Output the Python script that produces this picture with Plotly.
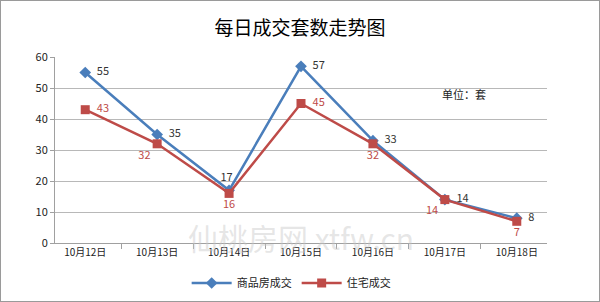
import plotly.graph_objects as go

categories = ["10月12日", "10月13日", "10月14日", "10月15日", "10月16日", "10月17日", "10月18日"]
commercial = [55, 35, 17, 57, 33, 14, 8]
residential = [43, 32, 16, 45, 32, 14, 7]
commercial_pos = ["middle right", "middle right", "top center", "middle right", "middle right", "middle right", "middle right"]
residential_pos = ["middle right", "bottom left", "bottom center", "middle right", "bottom center", "bottom left", "bottom center"]

FONT = "Noto Sans CJK SC"
BLUE = "#4a7ebb"
RED = "#be4b48"


def pad(values, positions):
    out = []
    for v, p in zip(values, positions):
        if p == "middle right":
            out.append(f"  {v}")
        elif p == "top center":
            out.append(f"{v}  ")
        else:
            out.append(str(v))
    return out


fig = go.Figure()
fig.add_trace(go.Scatter(
    x=categories, y=commercial, name="商品房成交", mode="lines+markers+text",
    line=dict(color=BLUE, width=2.5),
    marker=dict(symbol="diamond", size=9, color=BLUE),
    text=pad(commercial, commercial_pos), textposition=commercial_pos,
    textfont=dict(family=FONT, size=11, color="#333333"),
))
fig.add_trace(go.Scatter(
    x=categories, y=residential, name="住宅成交", mode="lines+markers+text",
    line=dict(color=RED, width=2.5),
    marker=dict(symbol="square", size=9, color=RED),
    text=pad(residential, residential_pos), textposition=residential_pos,
    textfont=dict(family=FONT, size=11, color=RED),
))

fig.update_layout(
    width=600, height=302,
    margin=dict(l=55, r=53, t=57, b=59, autoexpand=False),
    paper_bgcolor="white", plot_bgcolor="white",
    font=dict(family=FONT, size=11, color="#222222"),
    title=dict(text="每日成交套数走势图", x=0.5, xanchor="center", y=0.905, yanchor="middle",
               font=dict(family=FONT, size=19, color="#000000")),
    showlegend=True,
    legend=dict(orientation="h", x=0.48, xanchor="center", y=-0.215, yanchor="middle",
                font=dict(family=FONT, size=11, color="#222222"), itemwidth=40),
    xaxis=dict(showgrid=False, showline=True, linecolor="#a0a0a0", linewidth=1,
               ticks="outside", tickson="boundaries", ticklen=5, tickcolor="#a0a0a0",
               tickfont=dict(family=FONT, size=10, color="#222222"), fixedrange=True),
    yaxis=dict(range=[0, 60], dtick=10, showgrid=True, gridcolor="#b8b8b8", gridwidth=1,
               showline=True, linecolor="#a0a0a0", ticks="outside", ticklen=4, tickcolor="#a0a0a0",
               zeroline=False, tickfont=dict(family=FONT, size=11, color="#222222")),
    shapes=[dict(type="rect", xref="paper", yref="paper", x0=-55/492, x1=1+53/492,
                 y0=-59/186, y1=1+57/186, line=dict(color="#9a9a9a", width=2))],
    annotations=[
        dict(text="单位：套", x=0.88, y=0.855, xref="paper", yref="paper", showarrow=False,
             font=dict(family=FONT, size=11, color="#222222")),
        dict(text="仙桃房网 xtfw.cn", x=0.5, y=0.03, xref="paper", yref="paper", showarrow=False,
             xanchor="center", yanchor="middle",
             font=dict(family=FONT, size=30, color="rgba(200,200,200,0.45)")),
    ],
)
fig.write_html("out.html")
